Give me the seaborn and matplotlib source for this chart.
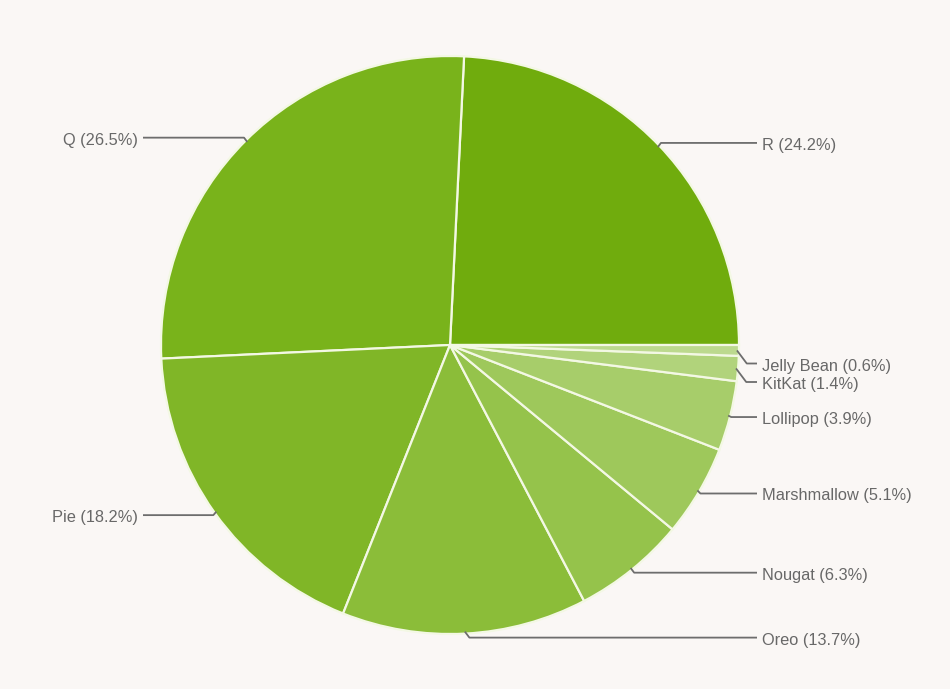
import numpy as np
import matplotlib
matplotlib.use("Agg")
import matplotlib.pyplot as plt
import seaborn as sns

# Android version distribution
versions = ["R", "Q", "Pie", "Oreo", "Nougat", "Marshmallow", "Lollipop", "KitKat", "Jelly Bean"]
shares = [24.2, 26.5, 18.2, 13.7, 6.3, 5.1, 3.9, 1.4, 0.6]
colors = ["#70ac0d", "#79b31b", "#80b627", "#8bbd39", "#95c34b", "#9ec85b",
          "#a7cd6a", "#b1d37b", "#bcd98e"]

sns.set_theme(style="white")
plt.rcParams['font.family'] = ['Liberation Sans', 'DejaVu Sans']

bg = "#faf7f5"
W, H = 950, 689
cx, cy_img, r = 450, 345, 289
cy = H - cy_img

fig = plt.figure(figsize=(9.5, 6.89), dpi=100, facecolor=bg)
ax = fig.add_axes([0, 0, 1, 1])
ax.set_facecolor(bg)

wedges, _ = ax.pie(shares, colors=colors, startangle=0, counterclock=True,
                   center=(cx, cy), radius=r,
                   wedgeprops=dict(edgecolor="#f3f8e4", linewidth=1.6))
ax.set_xlim(0, W)
ax.set_ylim(0, H)
ax.set_aspect("equal")
ax.axis("off")

# label layout (image coords, y downward)
info = []
for w, name, val in zip(wedges, versions, shares):
    mid = np.deg2rad((w.theta1 + w.theta2) / 2)
    ex = cx + (r - 2) * np.cos(mid)
    ey = cy_img - (r - 2) * np.sin(mid)
    ly = cy_img - (r + 4) * np.sin(mid)
    info.append(dict(name=name, val=val, ex=ex, ey=ey, right=np.cos(mid) > 0, ly=ly))

# spread the small lower-right labels
lower_right = sorted([d for d in info if d["right"] and d["ey"] > cy_img], key=lambda d: d["ey"])
prev = cy_img
for d in lower_right:
    d["ly"] = max(d["ly"], prev + 18.5)
    prev = d["ly"]

line_col = "#6d6d6d"
text_col = "#686868"
for d in info:
    dy = d["ly"] - d["ey"]
    step = max(3, 0.75 * abs(dy))
    if d["right"]:
        bx = d["ex"] + step
        tx = 762
        xs = [d["ex"], bx, tx - 5]
        ha = "left"
    else:
        bx = d["ex"] - step
        tx = 138
        xs = [d["ex"], bx, tx + 5]
        ha = "right"
    ys = [H - d["ey"], H - d["ly"], H - d["ly"]]
    ax.plot(xs, ys, color=line_col, lw=1.3, solid_capstyle="butt", zorder=3)
    ax.text(tx, H - d["ly"] - 7, f"{d['name']} ({d['val']}%)", ha=ha, va="baseline",
            fontsize=11.8, color=text_col, zorder=4)

fig.savefig("out.png", dpi=100, facecolor=bg)
